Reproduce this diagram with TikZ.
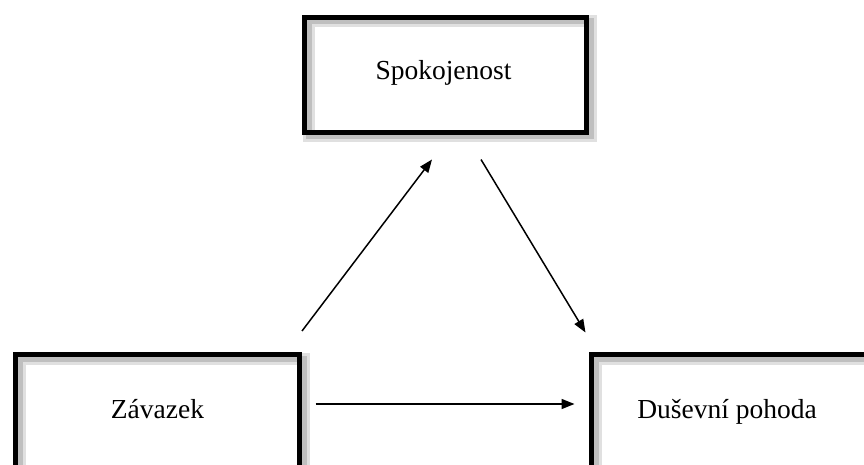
\documentclass[tikz,border=0pt]{standalone}
\usepackage{fontspec}
\setmainfont{Liberation Serif}
\usetikzlibrary{arrows.meta,positioning,shadows}

\begin{document}
\begin{tikzpicture}[
    x = 1pt, y = -1pt, % picture in pixel units
    > = {Triangle[length=13pt,width=10pt]}, % arrow head style
    line width = 1.5pt, % line style
    font = \fontsize{27.5}{33}\selectfont,
    every node/.style = {text height=19pt, text depth=6pt}
    ]

    \tikzset{box/.style={
    draw = black,
    line width = 5pt,
    minimum width = 284pt,
    minimum height = 115pt,
    general shadow = {shadow xshift=4pt, shadow yshift=-4pt, draw=black!12, line width=12pt},
    general shadow = {shadow xshift=4pt, shadow yshift=-4pt, draw=black!25, line width=6pt}
    }}
    \useasboundingbox (0,0) rectangle (864,465);
    \clip (0,0) rectangle (864,465);

    \node[box, minimum width = 282pt] (spok) at (445.5,75) {};
    \node (spoktext) at (443.5,73) {Spokojenost};
    \node[box] (zav) at (157.5,412) {Závazek};
    \node[box] (poh) at (733.5,412) {};
    \node (pohtext) at (727,412) {Duševní pohoda};

    \draw[->] ([yshift=21pt]zav.north east) -- ([xshift=-13.5pt,yshift=-24.5pt]spok.south);
    \draw[->] ([xshift=35.5pt,yshift=-24.5pt]spok.south) -- ([xshift=-3.5pt,yshift=19.5pt]poh.north west);
    \draw[->] ([xshift=13.5pt,yshift=8pt]zav.east) -- ([xshift=-14.5pt,yshift=8pt]poh.west);
\end{tikzpicture}
\end{document}
